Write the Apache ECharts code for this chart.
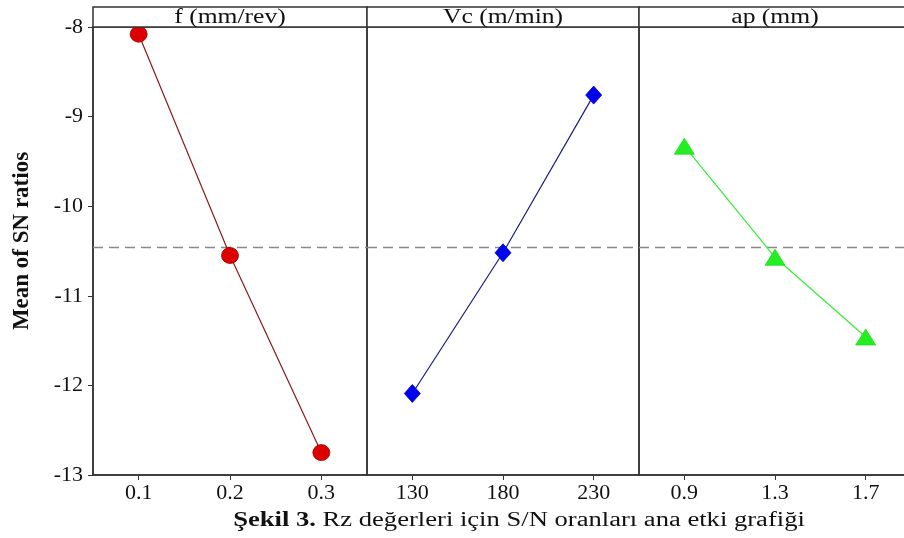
<!DOCTYPE html>
<html>
<head>
<meta charset="utf-8">
<script src="https://cdn.jsdelivr.net/npm/echarts@6/dist/echarts.min.js"></script>
<style>
  html, body { margin: 0; padding: 0; background: #fff; }
  #chart { width: 904px; height: 538px; }
</style>
</head>
<body>
<div id="chart"></div>
<script>
// Factor levels and mean S/N ratios for each factor
const panelTitles = ['f (mm/rev)', 'Vc (m/min)', 'ap (mm)'];
const fLevels = ['0.1', '0.2', '0.3'];
const vcLevels = ['130', '180', '230'];
const apLevels = ['0.9', '1.3', '1.7'];
const fMeans = [-8.08, -10.55, -12.75];
const vcMeans = [-12.09, -10.52, -8.76];
const apMeans = [-9.33, -10.57, -11.46];
const overallMean = -10.46;
const yTicks = { min: -13, max: -8, interval: 1 };

const SERIF = '"Liberation Serif", "DejaVu Serif", serif';
const AXIS_COLOR = '#333';

const panels = [
  { left: 93, width: 274, cats: fLevels, values: fMeans,
    line: '#8B1A1A', fill: '#DD0000', edge: '#A00000', symbol: 'circle', size: [17, 16] },
  { left: 367, width: 272, cats: vcLevels, values: vcMeans,
    line: '#1C1C80', fill: '#0000EE', edge: '#0000CC', symbol: 'diamond', size: [16, 18] },
  { left: 639, width: 272, cats: apLevels, values: apMeans,
    line: '#33EE33', fill: '#22EE22', edge: '#22DD22', symbol: 'triangle', size: [20, 16] }
];
const TOP = 27, HEIGHT = 448, HEAD = 20;

const grid = panels.map(p => ({
  left: p.left, top: TOP, width: p.width, height: HEIGHT,
  outerBoundsMode: 'none', containLabel: false,
  show: true, borderColor: AXIS_COLOR, borderWidth: 1.5, backgroundColor: 'transparent'
}));

const xAxis = panels.map((p, i) => ({
  type: 'category', gridIndex: i, data: p.cats, boundaryGap: true,
  axisLine: { show: true, lineStyle: { color: AXIS_COLOR, width: 1.5 } },
  axisTick: { show: true, alignWithLabel: true, length: 5, lineStyle: { color: AXIS_COLOR } },
  axisLabel: { color: '#111', fontFamily: SERIF, fontSize: 22, margin: 7 },
  splitLine: { show: false }
}));

const yAxis = panels.map((p, i) => ({
  type: 'value', gridIndex: i, min: yTicks.min, max: yTicks.max, interval: yTicks.interval,
  axisLine: { show: i === 0, lineStyle: { color: AXIS_COLOR, width: 1.5 } },
  axisTick: { show: i === 0, length: 5, lineStyle: { color: AXIS_COLOR } },
  axisLabel: { show: i === 0, color: '#111', fontFamily: SERIF, fontSize: 22, margin: 10 },
  splitLine: { show: false }
}));

const series = panels.map((p, i) => ({
  type: 'line', xAxisIndex: i, yAxisIndex: i, data: p.values,
  symbol: p.symbol, symbolSize: p.size, z: 5,
  lineStyle: { color: p.line, width: 1.2 },
  itemStyle: { color: p.fill, borderColor: p.edge, borderWidth: 0.8 },
  markLine: {
    silent: true, symbol: 'none', z: 1,
    label: { show: false },
    lineStyle: { color: '#888', type: [10, 6], width: 1.3 },
    data: [{ yAxis: overallMean }]
  }
}));

// Header strip with factor names above each panel
const graphic = [];
panels.forEach((p, i) => {
  graphic.push({
    type: 'rect', shape: { x: p.left, y: TOP - HEAD, width: p.width, height: HEAD },
    style: { fill: '#fff', stroke: AXIS_COLOR, lineWidth: 1.5 }, z: 10
  });
  graphic.push({
    type: 'text', x: p.left + p.width / 2, y: TOP - HEAD / 2 + 1, scaleX: 1.28,
    style: { text: panelTitles[i], fontFamily: SERIF, fontSize: 20, fill: '#111',
             textAlign: 'center', textVerticalAlign: 'middle' }, z: 11
  });
});
// Vertical axis title
graphic.push({
  type: 'text', x: 22, y: 241, rotation: Math.PI / 2,
  style: { text: 'Mean of SN ratios', fontFamily: SERIF, fontSize: 23, fontWeight: 'bold',
           fill: '#111', textAlign: 'center', textVerticalAlign: 'middle' }, z: 11
});
// Figure caption
graphic.push({
  type: 'text', x: 519, y: 521, scaleX: 1.33,
  style: {
    text: '{b|Şekil 3.} Rz değerleri için S/N oranları ana etki grafiği',
    fontFamily: SERIF, fontSize: 20, fill: '#111',
    textAlign: 'center', textVerticalAlign: 'middle',
    rich: { b: { fontFamily: SERIF, fontSize: 20, fontWeight: 'bold', fill: '#111' } }
  }, z: 11
});

const chart = echarts.init(document.getElementById('chart'), null, { renderer: 'canvas' });
chart.setOption({
  animation: false,
  backgroundColor: '#fff',
  grid, xAxis, yAxis, series, graphic
});
</script>
</body>
</html>
